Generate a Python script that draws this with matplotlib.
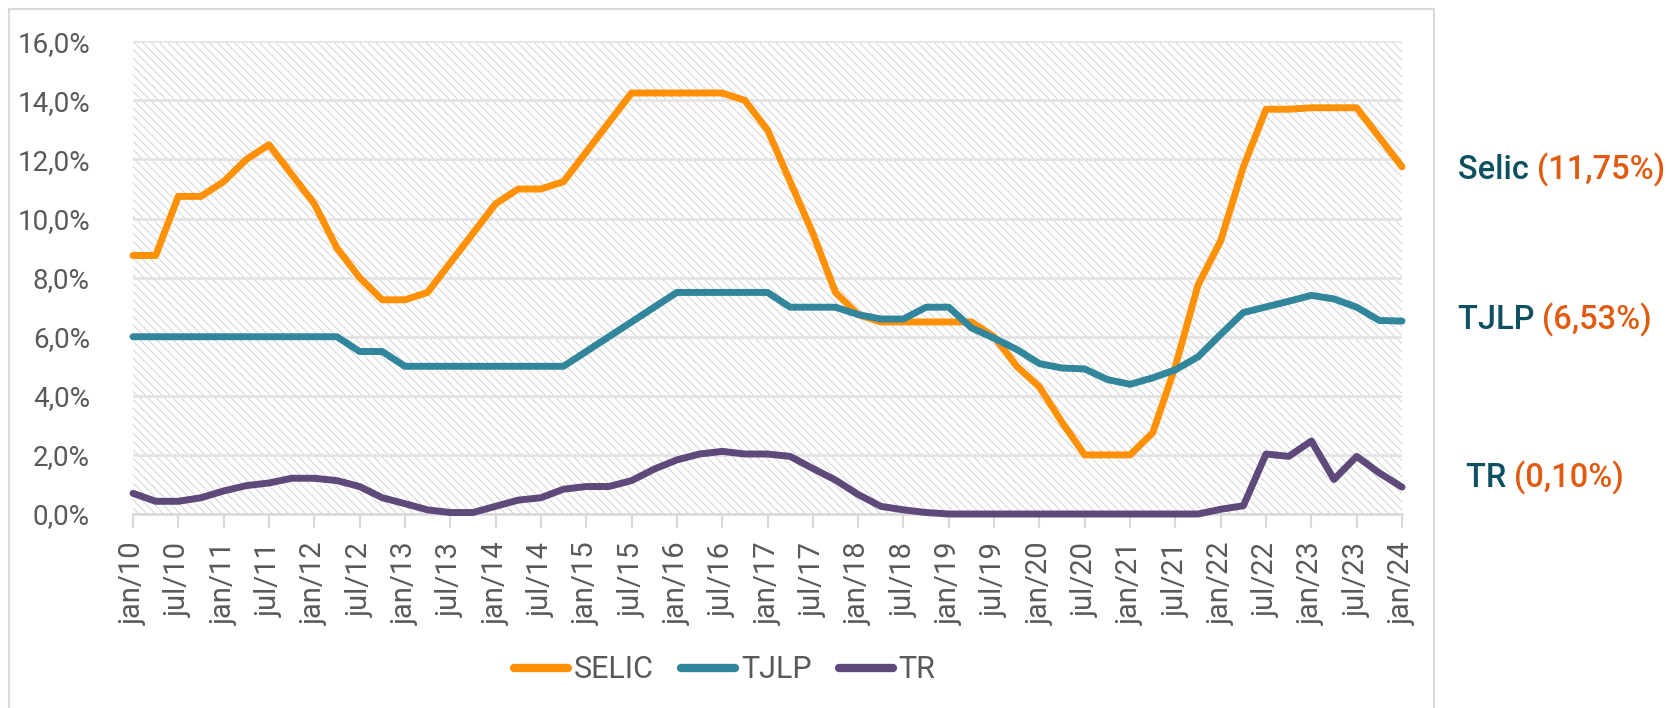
import matplotlib
matplotlib.use("Agg")
import matplotlib.pyplot as plt
from matplotlib.patches import Rectangle

# quarterly data, jan/10 .. jan/24
selic = [8.75, 8.75, 10.75, 10.75, 11.25, 12.0, 12.5, 11.5, 10.5, 9.0,
         8.0, 7.25, 7.25, 7.5, 8.5, 9.5, 10.5, 11.0, 11.0, 11.25,
         12.25, 13.25, 14.25, 14.25, 14.25, 14.25, 14.25, 14.0, 13.0, 11.25,
         9.5, 7.5, 6.75, 6.5, 6.5, 6.5, 6.5, 6.5, 6.0, 5.0,
         4.3, 3.1, 2.0, 2.0, 2.0, 2.75, 5.0, 7.75, 9.25, 11.75,
         13.7, 13.7, 13.75, 13.75, 13.75, 12.75, 11.75]
tjlp = [6.0, 6.0, 6.0, 6.0, 6.0, 6.0, 6.0, 6.0, 6.0, 6.0,
        5.5, 5.5, 5.0, 5.0, 5.0, 5.0, 5.0, 5.0, 5.0, 5.0,
        5.5, 6.0, 6.5, 7.0, 7.5, 7.5, 7.5, 7.5, 7.5, 7.0,
        7.0, 7.0, 6.75, 6.6, 6.6, 7.0, 7.0, 6.3, 5.95, 5.57,
        5.09, 4.94, 4.91, 4.55, 4.39, 4.61, 4.88, 5.32, 6.08, 6.82,
        7.01, 7.2, 7.4, 7.28, 7.0, 6.55, 6.53]
tr = [0.70, 0.43, 0.43, 0.55, 0.78, 0.96, 1.05, 1.21, 1.21, 1.13,
      0.93, 0.55, 0.35, 0.14, 0.05, 0.05, 0.26, 0.47, 0.55, 0.84,
      0.93, 0.93, 1.13, 1.52, 1.83, 2.03, 2.12, 2.03, 2.03, 1.95,
      1.54, 1.15, 0.66, 0.26, 0.14, 0.05, 0.0, 0.0, 0.0, 0.0,
      0.0, 0.0, 0.0, 0.0, 0.0, 0.0, 0.0, 0.0, 0.16, 0.28,
      2.03, 1.95, 2.47, 1.17, 1.95, 1.39, 0.91]
years = list(range(10, 25))
tick_labels = []
for y in years:
    tick_labels.append(f"jan/{y}")
    if y < 24:
        tick_labels.append(f"jul/{y}")
yticks = [0, 2, 4, 6, 8, 10, 12, 14, 16]

side_labels = [("Selic", "(11,75%)"), ("TJLP", "(6,53%)"), ("TR", "(0,10%)")]

grey = "#595959"
light = "#d9d9d9"
plt.rcParams["hatch.linewidth"] = 0.6

W, H = 1672, 708
fig = plt.figure(figsize=(W / 100, H / 100), dpi=100)
ax = fig.add_axes([133 / W, 1 - 514 / H, (1402 - 133) / W, (514 - 41.3) / H])

# hatched plot background
ax.add_patch(Rectangle((0, 0), 1, 1, transform=ax.transAxes, facecolor="white",
                       edgecolor="#cccccc", hatch="\\\\\\\\", lw=0, zorder=0))

x = list(range(len(selic)))
ax.plot(x, selic, color="#FF9109", lw=5, label="SELIC", solid_capstyle="round",
        solid_joinstyle="round", clip_on=False, zorder=3)
ax.plot(x, tjlp, color="#31869B", lw=5, label="TJLP", solid_capstyle="round",
        solid_joinstyle="round", clip_on=False, zorder=3)
ax.plot(x, tr, color="#5F497A", lw=5, label="TR", solid_capstyle="round",
        solid_joinstyle="round", clip_on=False, zorder=3)

ax.set_xlim(0, len(selic) - 1)
ax.set_ylim(0, 16)
ax.set_yticks(yticks)
ax.set_yticklabels([f"{v:.1f}%".replace(".", ",") for v in yticks],
                   fontsize=20, color=grey, family="Roboto")
ax.set_xticks(range(0, len(selic), 2))
ax.set_xticklabels(tick_labels, rotation=90, fontsize=21, color=grey, family="Roboto")
ax.tick_params(axis="x", length=10, width=1.5, color=light, pad=10)
ax.tick_params(axis="y", length=0, pad=31)
ax.yaxis.grid(True, color="#e4e4e4", lw=2)
ax.set_axisbelow(True)
for s in ["top", "right", "left"]:
    ax.spines[s].set_visible(False)
ax.spines["bottom"].set_color(light)
ax.spines["bottom"].set_linewidth(1.8)

leg = fig.legend(loc="center", bbox_to_anchor=(725 / W, 1 - 670 / H), ncol=3,
                 frameon=False, handlelength=1.75, handletextpad=0.2,
                 columnspacing=0.9, prop={"family": "Roboto", "size": 22})
for t in leg.get_texts():
    t.set_color(grey)
for h in leg.legend_handles:
    h.set_linewidth(6)

# chart frame
fig.add_artist(Rectangle((9 / W, -0.05), (1434 - 9) / W, 1 - 9 / H + 0.05,
                         transform=fig.transFigure, fill=False, edgecolor=light, lw=1.5))

# right side annotations
renderer = fig.canvas.get_renderer()
positions = [(1458, 170), (1458, 320), (1466, 478)]
for (name, val), (px, py) in zip(side_labels, positions):
    t1 = fig.text(px / W, 1 - py / H, name + " ", color="#0D5060", fontsize=23.5,
                  family="Roboto", weight="medium", va="center", ha="left")
    bb = t1.get_window_extent(renderer)
    fig.text(bb.x1 / W, 1 - py / H, val, color="#E05A0F", fontsize=23.5,
             family="Roboto", weight="medium", va="center", ha="left")

fig.savefig("out.png", dpi=100)
